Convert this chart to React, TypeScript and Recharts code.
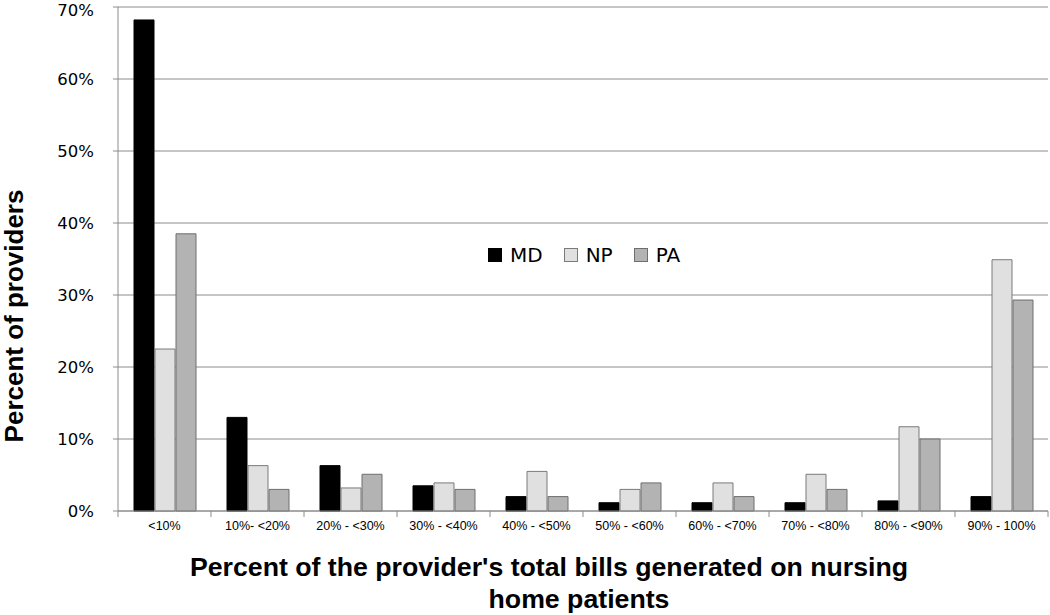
import React from "react";
import { BarChart, Bar, XAxis, YAxis, CartesianGrid, Legend } from "recharts";

const categories = ["<10%", "10%- <20%", "20% - <30%", "30% - <40%", "40% - <50%", "50% - <60%", "60% - <70%", "70% - <80%", "80% - <90%", "90% - 100%"];
const mdValues = [68.2, 13.0, 6.3, 3.5, 2.0, 1.15, 1.15, 1.15, 1.4, 2.0];
const npValues = [22.5, 6.3, 3.2, 3.9, 5.5, 3.0, 3.9, 5.1, 11.7, 34.9];
const paValues = [38.5, 3.0, 5.1, 3.0, 2.0, 3.9, 2.0, 3.0, 10.0, 29.3];
const yTicks = [0, 10, 20, 30, 40, 50, 60, 70];

const seriesInfo = [
  { key: "MD", fill: "#000000", stroke: "#000000" },
  { key: "NP", fill: "#e0e0e0", stroke: "#7a7a7a" },
  { key: "PA", fill: "#b3b3b3", stroke: "#6e6e6e" },
];

const data = categories.map((c, i) => ({ cat: c, MD: mdValues[i], NP: npValues[i], PA: paValues[i] }));

const GRID = "#8c8c8c";

const CatTick = (props: any) => {
  const { x, y, payload, width, visibleTicksCount, index } = props;
  const band = width / visibleTicksCount;
  const left = x - band / 2;
  const right = x + band / 2;
  return (
    <g>
      <line x1={left} x2={left} y1={y - 8} y2={y - 2} stroke={GRID} strokeWidth={1} />
      {index === visibleTicksCount - 1 && (
        <line x1={right} x2={right} y1={y - 8} y2={y - 2} stroke={GRID} strokeWidth={1} />
      )}
      <text x={x} y={y + 11} textAnchor="middle" fontFamily="'Liberation Sans', Arial, sans-serif" fontSize={12.5} fill="#000">
        {payload.value}
      </text>
    </g>
  );
};

const XTitle = (props: any) => {
  const vb = props.viewBox;
  const mid = vb.x + vb.width / 2;
  return (
    <text textAnchor="middle" fontFamily="'Liberation Sans', Arial, sans-serif" fontWeight="bold" fontSize={26.7} fill="#000">
      <tspan x={mid - 34} y={vb.y + 65}>Percent of the provider's total bills generated on nursing</tspan>
      <tspan x={mid - 4} y={vb.y + 97}>home patients</tspan>
    </text>
  );
};

const YTitle = (props: any) => {
  const vb = props.viewBox;
  const cy = vb.y + vb.height / 2 + 57;
  const cx = 14;
  return (
    <text x={cx} y={cy} transform={`rotate(-90 ${cx} ${cy})`} textAnchor="middle" dominantBaseline="central" fontFamily="'Liberation Sans', Arial, sans-serif" fontWeight="bold" fontSize={26} fill="#000">
      Percent of providers
    </text>
  );
};

const LegendContent = () => (
  <div style={{ display: "flex", alignItems: "center", fontFamily: "'DejaVu Sans', Verdana, sans-serif", fontSize: 20, color: "#000" }}>
    {seriesInfo.map((s) => (
      <div key={s.key} style={{ display: "flex", alignItems: "center", marginRight: 21 }}>
        <div style={{ width: 12, height: 12, background: s.fill, border: `1px solid ${s.stroke}`, marginRight: 8 }} />
        <span>{s.key}</span>
      </div>
    ))}
  </div>
);

export default function App() {
  return (
    <div style={{ position: "absolute", left: 0, top: 0, background: "#fff" }}>
      <BarChart width={1050} height={615} data={data} margin={{ top: 7, right: 2, bottom: 0, left: 0 }} barSize={20} barGap={1}>
        <CartesianGrid horizontal vertical={false} stroke={GRID} strokeWidth={1} />
        <XAxis dataKey="cat" height={104} axisLine={{ stroke: GRID }} tickLine={false} tick={<CatTick />} interval={0} label={<XTitle />} />
        <YAxis
          width={118}
          domain={[0, 70]}
          ticks={yTicks}
          tickFormatter={(v: number) => `${v}%`}
          axisLine={{ stroke: GRID }}
          tickLine={{ stroke: GRID }}
          tickSize={5}
          tickMargin={19}
          tick={{ fontFamily: "'DejaVu Sans', Verdana, sans-serif", fontSize: 16.5, fill: "#000" }}
          label={<YTitle />}
        />
        <Legend
          layout="horizontal"
          verticalAlign="middle"
          align="center"
          content={<LegendContent />}
          wrapperStyle={{ position: "absolute", left: 488, top: 243, width: "auto", height: "auto" }}
        />
        {seriesInfo.map((s) => (
          <Bar key={s.key} dataKey={s.key} fill={s.fill} stroke={s.stroke} strokeWidth={1} isAnimationActive={false} />
        ))}
      </BarChart>
    </div>
  );
}
